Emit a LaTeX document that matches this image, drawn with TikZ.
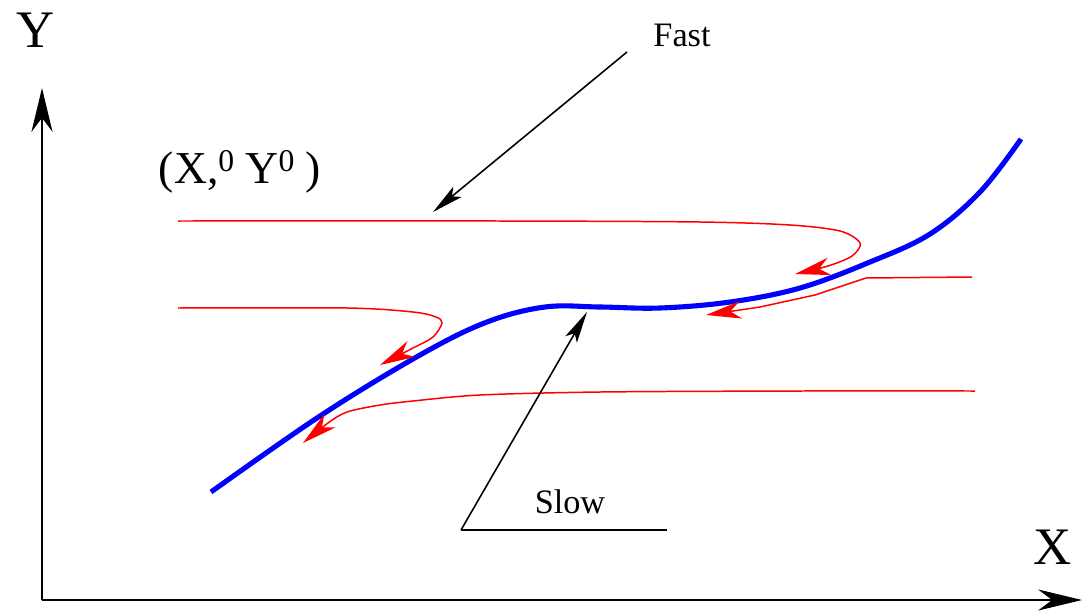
\documentclass[tikz,border=0pt]{standalone}
\usepackage{fontspec}
\setmainfont{Liberation Serif}
\usetikzlibrary{arrows.meta}
\tikzset{
  axis/.style={line width=1.2pt,-{Stealth[length=25pt,width=12pt,inset=8pt]}},
  pointer/.style={line width=0.9pt,-{Stealth[length=18pt,width=7.5pt,inset=4pt]}},
  plain/.style={line width=0.9pt},
  traj/.style={red,line width=0.85pt,-{Stealth[length=20pt,width=10pt,inset=6pt]}},
  slowmf/.style={blue,line width=2.9pt},
  lab/.style={inner sep=0pt,font=\fontsize{19.5}{22}\selectfont},
  biglab/.style={inner sep=0pt,font=\fontsize{30}{34}\selectfont},
}
\begin{document}
\begin{tikzpicture}[x=0.02cm,y=-0.02cm]
\useasboundingbox (0,0) rectangle (1087,612);
% axes
\coordinate (O) at (42,600);
\coordinate (ytip) at (42,88);
\coordinate (xtip) at (1082,600);
\draw[axis] (O) -- (ytip);
\draw[axis] (O) -- (xtip);
\node[biglab] (ylab) at (36,30) {Y};
\node[biglab] (xlab) at (1053,547) {X};
% initial point label
\node[inner sep=0pt,font=\fontsize{26}{30}\selectfont] (init) at (240,172)
  {(X,\raisebox{0.55ex}{\fontsize{18}{20}\selectfont 0} Y\raisebox{0.55ex}{\fontsize{18}{20}\selectfont 0} )};
% slow manifold
\draw[slowmf] plot[smooth,tension=0.6] coordinates {(211,492)(320,416)(420,355)(487,322)(545,307)(600,307)(660,308)(730,302)(800,288)(870,262)(930,234)(980,192)(1021,139)};
% trajectories
\draw[traj] plot[smooth,tension=0.5] coordinates {(178,221)(500,221)(700,222)(790,225)(840,231)(860,243)(852,256)(828,266)(795,274)};
\draw[traj] plot[smooth,tension=0.5] coordinates {(178,308)(347,308)(413,312)(436,317)(442,323)(433,337)(413,348)(380,365)};
\draw[traj] plot[smooth,tension=0.5] coordinates {(975,391)(800,391)(600,392)(480,395)(413,401)(380,405)(347,412)(328,423)(303,443)};
\draw[traj] (972,277) -- (866,278) -- (815,295) -- (760,307) -- (706,315);
% labels with pointers
\node[lab] (fast) at (682,35) {Fast};
\coordinate (fastfoot) at (627,52);
\coordinate (fasttip) at (433,212);
\draw[pointer] (fastfoot) -- (fasttip);
\node[lab] (slow) at (570,502) {Slow};
\coordinate (slowfoot) at (461,530);
\coordinate (slowend) at (667,530);
\coordinate (slowtip) at (587,312);
\draw[plain] (slowend) -- (slowfoot);
\draw[pointer] (slowfoot) -- (slowtip);
\end{tikzpicture}
\end{document}
